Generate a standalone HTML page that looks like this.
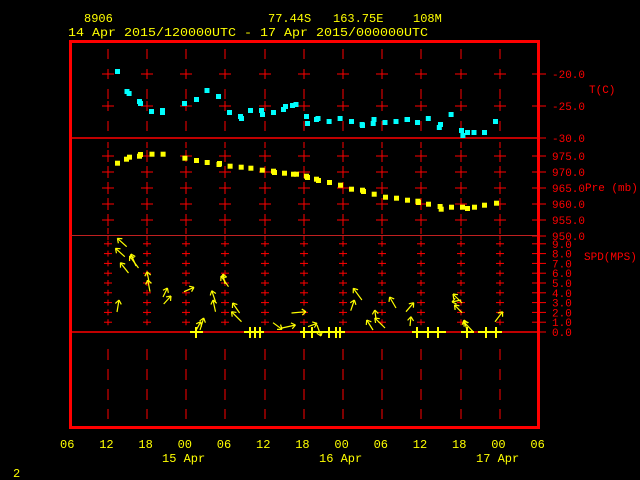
<!DOCTYPE html>
<html><head><meta charset="utf-8"><style>
html,body{margin:0;padding:0;background:#000;width:640px;height:480px;overflow:hidden}
svg{display:block}
text{font-family:"Liberation Mono","DejaVu Sans Mono",monospace;font-size:12px}
#tx text.r{font-size:11px}
</style></head><body>
<svg id="s" width="640" height="480" xmlns="http://www.w3.org/2000/svg">
<rect width="640" height="480" fill="#000"/>
<g fill="#ffff00">
<text x="84" y="22">8906</text>
<text x="268" y="22">77.44S</text>
<text x="333" y="22">163.75E</text>
<text x="413" y="22">108M</text>
<text x="68" y="36" textLength="360" lengthAdjust="spacingAndGlyphs">14 Apr 2015/120000UTC - 17 Apr 2015/000000UTC</text>
<text x="13" y="477">2</text>
</g>
<g id="grid" stroke="#ff0000" stroke-width="1"></g>
<g id="tx" fill="#ff0000"></g>
<rect x="70.5" y="41.5" width="468" height="386" fill="none" stroke="#ff0000" stroke-width="3"/>
<g stroke="#ff0000" stroke-width="1.5">
<line x1="70" y1="138" x2="538" y2="138"/>
<line x1="70" y1="235.5" x2="538" y2="235.5" stroke-width="1" stroke="#c02020"/>
<line x1="70" y1="332" x2="538" y2="332"/>
</g>
<g id="data"></g>
</svg>
<script>
var NS="http://www.w3.org/2000/svg";
function el(p,t,a,txt){var e=document.createElementNS(NS,t);for(var k in a)e.setAttribute(k,a[k]);if(txt!==undefined)e.textContent=txt;document.getElementById(p).appendChild(e);return e;}
var cols=[108,147,186,225,265,304,343,382,421,461,500];
function L(p,x1,y1,x2,y2,c,w){el(p,'line',{x1:x1,y1:y1,x2:x2,y2:y2,stroke:c||'#f00','stroke-width':w||1});}
cols.forEach(function(x){
 [[49,59],[69,79],[89,99],[101,111],[121,131]].forEach(function(s){L('grid',x,s[0],x,s[1]);});
 [74,106].forEach(function(y){L('grid',x-6,y,x+6,y);});
 [156,172,188,204,220].forEach(function(y){L('grid',x,y-6,x,y+6);L('grid',x-6,y,x+6,y);});
 L('grid',x,142,x,148);L('grid',x,228,x,234);
 for(var i=1;i<=9;i++){var y=332-i*9.8;L('grid',x,y-3,x,y+3);L('grid',x-4,y,x+4,y);}
 L('grid',x,236,x,240);
 [[349,360],[369,380],[389,400],[409,419]].forEach(function(s){L('grid',x,s[0],x,s[1]);});
});
function R(y,t){L('tx',532,y,546,y,'#f00',1);el('tx','text',{x:552,y:y+4,'class':'r'},t);}
R(74,'-20.0');R(106,'-25.0');R(138,'-30.0');
R(156,'975.0');R(172,'970.0');R(188,'965.0');R(204,'960.0');R(220,'955.0');R(236,'950.0');
for(var i=9;i>=0;i--)R(332-i*9.8,' '+i+'.0');
el('tx','text',{x:589,y:93,'class':'r'},'T(C)');
el('tx','text',{x:585,y:191,'class':'r'},'Pre (mb)');
el('tx','text',{x:584,y:260,'class':'r'},'SPD(MPS)');
var xl=['06','12','18','00','06','12','18','00','06','12','18','00','06'];
xl.forEach(function(t,i){el('tx','text',{x:60+i*39.2,y:448,fill:'#ff0'},t);});
[['15 Apr',162],['16 Apr',319],['17 Apr',476]].forEach(function(d){el('tx','text',{x:d[1],y:462,fill:'#ff0'},d[0]);});
var T=[[117,71],[126.5,91],[128.6,93],[139,101],[140,103],[151,111],[162,110],[162,112],[184,103],[196,99],[206.5,90],[218,96],[229,112],[240,116],[241,118],[250,110],[261,110],[262,114],[273,112],[283,109],[285,106],[292,105],[295.5,104],[306,116],[307,123],[316,119],[317.5,118],[328.6,121],[339.6,118],[351,121],[361.6,124],[362,125],[372.7,123],[373.5,119],[384.5,122],[395.5,121],[406.5,119],[407,119],[417,122],[427.8,118],[438.8,127],[440,124],[450.6,114],[461,130],[462.4,135],[467,132],[473.5,132],[484,132],[495,121]];
T.forEach(function(p){el('data','rect',{x:p[0]-2,y:p[1]-2,width:5,height:5,fill:'#00ffff'});});
var P=[[117,162.7],[126,158.7],[129,156.7],[139,155.7],[140,154],[151.5,153.7],[162.6,153.7],[184.4,157.7],[196,160],[206.7,162],[218.5,164],[219,163],[229.6,165.7],[240.7,166.7],[250.4,167.7],[261.8,169.7],[273,170.7],[274,172],[284,172.7],[293,173.7],[296,173.7],[306,175.7],[307,177],[316,178.7],[318,180],[329,182],[340,184.7],[351,188.7],[362,189.7],[363,191],[373.7,193.7],[385,196.7],[396,197.7],[407,199.7],[417.4,200.7],[418,202],[428,203.7],[439.6,206],[440.7,208.7],[451,206.7],[462,206.7],[467,208],[474,206.7],[484,204.7],[496,202.7]];
P.forEach(function(p){el('data','rect',{x:p[0]-2,y:p[1]-2,width:5,height:5,fill:'#ffff00'});});
var W=[[117,312,119,300],[126.7,246.7,117.4,238.3],[124.8,256.7,115.5,248.3],[138.5,268,129.6,256],[136,266,131,254],[128.5,273,120.4,262.7],[149,281.7,147,271.7],[150,291.7,147.8,280],[163,297,167.4,288],[163.7,304,171,296],[184,291.7,194,287.3],[200,330,203.7,318],[196.3,330,200.7,321.7],[215.5,311.7,213,300],[215.5,301.7,211.8,290.7],[228.5,286.7,221,276],[225,284,223,274],[241.5,321.7,231.5,311.7],[239.6,313,232.6,303],[273,322.7,282,329.3],[282,328,295.5,325],[291.5,313,306,311.7],[308,326.7,317,323.3],[317,325,321,336],[350.7,310.7,354.4,300],[361.9,300,353.3,288.3],[373,330,366.7,320],[385,328,374.8,318],[376,319,374.8,310],[396,308,389.6,297],[406,311.7,413.7,302.7],[410,326,411,316.7],[462,312.7,454.5,305],[462,303,453,294],[461,300,452,302],[473,331.7,463.7,321.7],[467,330,464,320],[495,321.7,502.6,311.7]];
W.forEach(function(a){
 var dx=a[2]-a[0],dy=a[3]-a[1],l=Math.sqrt(dx*dx+dy*dy);var ux=dx/l,uy=dy/l;
 L('data',a[0],a[1],a[2],a[3],'#ff0',1.2);
 var h=5;
 L('data',a[2],a[3],a[2]-h*(ux*0.8-uy*0.6),a[3]-h*(uy*0.8+ux*0.6),'#ff0',1.2);
 L('data',a[2],a[3],a[2]-h*(ux*0.8+uy*0.6),a[3]-h*(uy*0.8-ux*0.6),'#ff0',1.2);
});
[[190,203],[244,264],[300,345],[412,446],[461,474],[478,502]].forEach(function(s){L('data',s[0],332,s[1],332,'#ff0',2);});
[196,250,255,260,304,312,329,336,340,417,428,438,467,486,496].forEach(function(x){L('data',x,327,x,338,'#ff0',2);});
</script>
</body></html>
